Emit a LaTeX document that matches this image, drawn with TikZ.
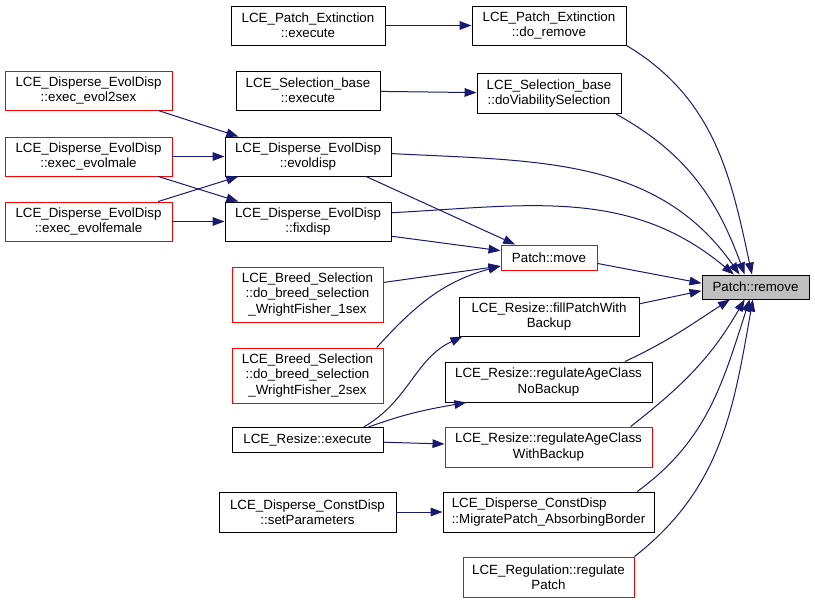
\documentclass[tikz,border=0pt]{standalone}
\usepackage{fontspec}
\setmainfont{Liberation Sans}
\usetikzlibrary{arrows.meta}
\definecolor{edgeblue}{RGB}{25,25,112}
\definecolor{nodegray}{RGB}{191,191,191}
\tikzset{
  fn/.style 2 args={draw=black, line width=0.7pt, align=center, inner sep=0pt,
    minimum width=#1*0.75pt, minimum height=#2*0.75pt,
    font=\fontsize{10}{11.5}\selectfont},
  trunc/.style={draw=red},
  calls/.style={edgeblue, line width=0.75pt, -{Triangle[length=9pt,width=6.5pt]}},
}

\begin{document}
\begin{tikzpicture}[x=0.75pt,y=-0.75pt]
    \useasboundingbox (0,0) rectangle (815,604);
    \node[fn={154}{39}] (pex) at (308,25.5) {LCE\_Patch\_Extinction\\::execute};
    \node[fn={154}{39}] (pdr) at (549,25.5) {LCE\_Patch\_Extinction\\::do\_remove};
    \node[fn={144}{39}] (sbe) at (308,90.5) {LCE\_Selection\_base\\::execute};
    \node[fn={144}{40}] (svs) at (549,93.5) {LCE\_Selection\_base\\::doViabilitySelection};
    \node[fn={167}{39},trunc] (e2s) at (88.5,90.5) {LCE\_Disperse\_EvolDisp\\::exec\_evol2sex};
    \node[fn={167}{39},trunc] (emale) at (88.5,156.5) {LCE\_Disperse\_EvolDisp\\::exec\_evolmale};
    \node[fn={167}{39},trunc] (efem) at (88.5,221.5) {LCE\_Disperse\_EvolDisp\\::exec\_evolfemale};
    \node[fn={166}{39}] (evd) at (308,156.5) {LCE\_Disperse\_EvolDisp\\::evoldisp};
    \node[fn={166}{39}] (fxd) at (308,221.5) {LCE\_Disperse\_EvolDisp\\::fixdisp};
    \node[fn={96}{25},trunc] (pmv) at (549,257.5) {Patch::move};
    \node[fn={107}{24},fill=nodegray] (prm) at (755.5,287) {Patch::remove};
    \node[fn={151}{55},trunc] (bs1) at (307.5,294.5) {LCE\_Breed\_Selection\\::do\_breed\_selection\\\_WrightFisher\_1sex};
    \node[fn={151}{55},trunc] (bs2) at (307.5,375.5) {LCE\_Breed\_Selection\\::do\_breed\_selection\\\_WrightFisher\_2sex};
    \node[fn={151}{25}] (rex) at (307.5,440) {LCE\_Resize::execute};
    \node[fn={177}{40}] (csp) at (307.5,512) {LCE\_Disperse\_ConstDisp\\::setParameters};
    \node[fn={180}{39}] (fpw) at (549,316.5) {LCE\_Resize::fillPatchWith\\Backup};
    \node[fn={207}{40}] (nbk) at (548.5,382) {LCE\_Resize::regulateAgeClass\\NoBackup};
    \node[fn={207}{40},trunc] (wbk) at (548.5,447) {LCE\_Resize::regulateAgeClass\\WithBackup};
    \node[fn={211}{40},align=left] (mpa) at (548.5,512) {LCE\_Disperse\_ConstDisp\\::MigratePatch\_AbsorbingBorder};
    \node[fn={171}{40},trunc] (rgp) at (548.5,577) {LCE\_Regulation::regulate\\Patch};

    \draw[calls] (pex) -- (pdr);
    \draw[calls] (sbe) -- (svs);
    \draw[calls] (e2s.-16) -- (evd.164);
    \draw[calls] (emale) -- (evd);
    \draw[calls] (emale.-16) -- (fxd.164);
    \draw[calls] (efem.16) -- (evd.196);
    \draw[calls] (efem) -- (fxd);
    \draw[calls] (evd.-19) -- (pmv.159);
    \draw[calls] (fxd.-10) -- (pmv.172);
    \draw[calls] (bs1.9) -- (pmv.190);
    \draw[calls] (bs2.22) to[out=48,in=195] (pmv.190);
    \draw[calls] (pmv.-7) -- (prm.176);
    \draw[calls] (pdr.south east) to[out=-31,in=102] (prm.106);
    \draw[calls] (svs.-17) to[out=-29,in=110] (prm.131);
    \draw[calls] (evd.2) to[out=-3,in=125] (prm.142);
    \draw[calls] (fxd.6) to[out=3,in=140] (prm.150);
    \draw[calls] (fpw.8) -- (prm.184);
    \draw[calls] (nbk.15) to[out=25,in=213] (prm.206);
    \draw[calls] (wbk.14) to[out=38,in=240] (prm.229);
    \draw[calls] (mpa.13) to[out=36,in=252] (prm.245);
    \draw[calls] (rgp.north east) to[out=38,in=260] (prm.258);
    \draw[calls] (rex.13) to[out=30,in=205] (fpw.193);
    \draw[calls] (rex.12) to[out=20,in=190] (nbk.194);
    \draw[calls] (rex) -- (wbk);
    \draw[calls] (csp) -- (mpa);
\end{tikzpicture}
\end{document}
